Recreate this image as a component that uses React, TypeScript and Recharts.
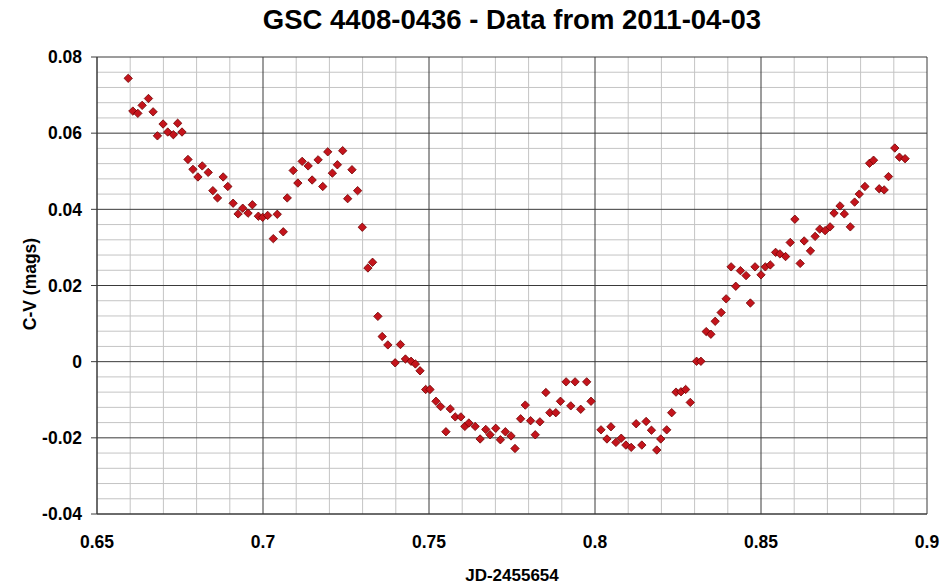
import React from 'react';
import { ScatterChart, Scatter, XAxis, YAxis, ReferenceLine } from 'recharts';

const jdValues = [
  0.6594, 0.6608, 0.6623, 0.6636, 0.6655, 0.6669, 0.6682, 0.6699, 0.6713, 0.6730,
  0.6743, 0.6756, 0.6774, 0.6789, 0.6804, 0.6817, 0.6835, 0.6849, 0.6863, 0.6880,
  0.6894, 0.6910, 0.6925, 0.6939, 0.6955, 0.6968, 0.6986, 0.6999, 0.7014, 0.7031,
  0.7043, 0.7061, 0.7073, 0.7091, 0.7105, 0.7118, 0.7136, 0.7148, 0.7166, 0.7180,
  0.7195, 0.7209, 0.7224, 0.7240, 0.7255, 0.7268, 0.7285, 0.7299, 0.7316, 0.7330,
  0.7346, 0.7359, 0.7376, 0.7398, 0.7414, 0.7429, 0.7446, 0.7459, 0.7473, 0.7490,
  0.7503, 0.7521, 0.7535, 0.7551, 0.7564, 0.7579, 0.7596, 0.7608, 0.7620, 0.7639,
  0.7654, 0.7671, 0.7684, 0.7701, 0.7715, 0.7730, 0.7747, 0.7759, 0.7776, 0.7790,
  0.7806, 0.7820, 0.7834, 0.7852, 0.7864, 0.7882, 0.7896, 0.7913, 0.7927, 0.7940,
  0.7957, 0.7975, 0.7988, 0.8018, 0.8036, 0.8048, 0.8063, 0.8079, 0.8093, 0.8109,
  0.8124, 0.8141, 0.8154, 0.8170, 0.8186, 0.8198, 0.8216, 0.8231, 0.8244, 0.8259,
  0.8273, 0.8287, 0.8306, 0.8319, 0.8335, 0.8349, 0.8362, 0.8380, 0.8395, 0.8410,
  0.8424, 0.8438, 0.8455, 0.8468, 0.8482, 0.8500, 0.8513, 0.8528, 0.8544, 0.8557,
  0.8574, 0.8588, 0.8602, 0.8618, 0.8630, 0.8649, 0.8663, 0.8677, 0.8693, 0.8708,
  0.8720, 0.8738, 0.8751, 0.8769, 0.8782, 0.8796, 0.8813, 0.8827, 0.8839, 0.8856,
  0.8871, 0.8884, 0.8903, 0.8917, 0.8934,
];

const cvValues = [
  0.0744, 0.0658, 0.0652, 0.0673, 0.0691, 0.0656, 0.0593, 0.0624, 0.0603, 0.0596,
  0.0626, 0.0603, 0.0531, 0.0505, 0.0485, 0.0514, 0.0497, 0.0449, 0.0430, 0.0485,
  0.0460, 0.0416, 0.0388, 0.0403, 0.0390, 0.0412, 0.0382, 0.0379, 0.0384, 0.0323,
  0.0387, 0.0341, 0.0430, 0.0502, 0.0469, 0.0526, 0.0514, 0.0477, 0.0530, 0.0460,
  0.0551, 0.0495, 0.0517, 0.0554, 0.0428, 0.0504, 0.0449, 0.0353, 0.0246, 0.0261,
  0.0119, 0.0066, 0.0044, -0.0003, 0.0045, 0.0007, 0.0001, -0.0006, -0.0024, -0.0073,
  -0.0073, -0.0104, -0.0118, -0.0184, -0.0124, -0.0145, -0.0145, -0.0170, -0.0161, -0.0170,
  -0.0203, -0.0178, -0.0192, -0.0175, -0.0205, -0.0184, -0.0195, -0.0228, -0.0150, -0.0114,
  -0.0155, -0.0192, -0.0158, -0.0081, -0.0134, -0.0134, -0.0104, -0.0053, -0.0116, -0.0053,
  -0.0125, -0.0053, -0.0104, -0.0179, -0.0203, -0.0171, -0.0212, -0.0201, -0.0219, -0.0225,
  -0.0163, -0.0219, -0.0157, -0.0180, -0.0232, -0.0203, -0.0179, -0.0134, -0.0080, -0.0079,
  -0.0073, -0.0107, 0.0001, 0.0001, 0.0079, 0.0072, 0.0106, 0.0129, 0.0165, 0.0249,
  0.0198, 0.0239, 0.0226, 0.0154, 0.0249, 0.0228, 0.0249, 0.0254, 0.0287, 0.0283,
  0.0276, 0.0313, 0.0374, 0.0258, 0.0317, 0.0291, 0.0329, 0.0348, 0.0344, 0.0354,
  0.0390, 0.0409, 0.0388, 0.0354, 0.0419, 0.0440, 0.0460, 0.0521, 0.0529, 0.0454,
  0.0451, 0.0486, 0.0561, 0.0537, 0.0533,
];

const xMajorTicks = [0.65, 0.7, 0.75, 0.8, 0.85, 0.9];
const xMinorLines = [0.66, 0.67, 0.68, 0.69, 0.71, 0.72, 0.73, 0.74, 0.76, 0.77, 0.78, 0.79, 0.81, 0.82, 0.83, 0.84, 0.86, 0.87, 0.88, 0.89];
const yMajorTicks = [-0.04, -0.02, 0, 0.02, 0.04, 0.06, 0.08];
const yMinorLines = [
  -0.036, -0.032, -0.028, -0.024, -0.016, -0.012, -0.008, -0.004,
  0.004, 0.008, 0.012, 0.016, 0.024, 0.028, 0.032, 0.036,
  0.044, 0.048, 0.052, 0.056, 0.064, 0.068, 0.072, 0.076,
];

const titleText = 'GSC 4408-0436 - Data from 2011-04-03';
const xTitle = 'JD-2455654';
const yTitle = 'C-V (mags)';

const data = jdValues.map((x, i) => ({ x, y: cvValues[i] }));

const FONT = '"Liberation Sans", Arial, sans-serif';
const MAJOR = '#3a3a3a';
const MINOR = '#c4c4c4';

const fmt = (v: number) => String(Number(v.toFixed(3)));

const Diamond = (props: any) => {
  const { cx, cy } = props;
  if (cx == null || cy == null) return null;
  const r = 4.2;
  return (
    <polygon
      points={`${cx},${cy - r} ${cx + r},${cy} ${cx},${cy + r} ${cx - r},${cy}`}
      fill="#c4141c"
      stroke="#6e0000"
      strokeWidth={0.8}
    />
  );
};

export default function App() {
  return (
    <div style={{ position: 'relative', width: 940, height: 587, background: '#fff', fontFamily: FONT }}>
      <style>{`body{margin:0;}`}</style>
      <div
        style={{
          position: 'absolute', left: 97, width: 830, top: 2, textAlign: 'center',
          fontWeight: 'bold', fontSize: 27.5, lineHeight: '36px', color: '#000',
        }}
      >
        {titleText}
      </div>
      <div
        style={{
          position: 'absolute', left: 97, width: 830, top: 565, textAlign: 'center',
          fontWeight: 'bold', fontSize: 17, lineHeight: '22px', color: '#000',
        }}
      >
        {xTitle}
      </div>
      <div
        style={{
          position: 'absolute', left: 30, top: 284, width: 0, height: 0,
        }}
      >
        <div
          style={{
            position: 'absolute', left: -100, top: -11, width: 200, textAlign: 'center',
            fontWeight: 'bold', fontSize: 17.5, lineHeight: '22px', color: '#000',
            transform: 'rotate(-90deg)', whiteSpace: 'pre',
          }}
        >
          {yTitle}
        </div>
      </div>
      <ScatterChart width={940} height={587} margin={{ top: 57, right: 13, bottom: 0, left: 0 }}>
        <XAxis
          type="number"
          dataKey="x"
          domain={[0.65, 0.9]}
          ticks={xMajorTicks}
          tickFormatter={fmt}
          tickLine={false}
          axisLine={{ stroke: MAJOR }}
          tickMargin={16}
          height={73}
          tick={{ fontSize: 17.5, fontWeight: 'bold', fill: '#000', fontFamily: FONT }}
          allowDataOverflow
        />
        <YAxis
          type="number"
          dataKey="y"
          domain={[-0.04, 0.08]}
          ticks={yMajorTicks}
          tickFormatter={fmt}
          width={97}
          tickSize={6}
          tickMargin={9}
          tickLine={{ stroke: MAJOR }}
          axisLine={{ stroke: MAJOR }}
          tick={{ fontSize: 17.5, fontWeight: 'bold', fill: '#000', fontFamily: FONT }}
          allowDataOverflow
        />
        {xMinorLines.map((v) => (
          <ReferenceLine key={`xm${v}`} x={v} stroke={MINOR} strokeWidth={1} />
        ))}
        {yMinorLines.map((v) => (
          <ReferenceLine key={`ym${v}`} y={v} stroke={MINOR} strokeWidth={1} />
        ))}
        {xMajorTicks.map((v) => (
          <ReferenceLine key={`xM${v}`} x={v} stroke={MAJOR} strokeWidth={1} />
        ))}
        {yMajorTicks.map((v) => (
          <ReferenceLine key={`yM${v}`} y={v} stroke={MAJOR} strokeWidth={1} />
        ))}
        <Scatter data={data} shape={Diamond} isAnimationActive={false} />
      </ScatterChart>
    </div>
  );
}
